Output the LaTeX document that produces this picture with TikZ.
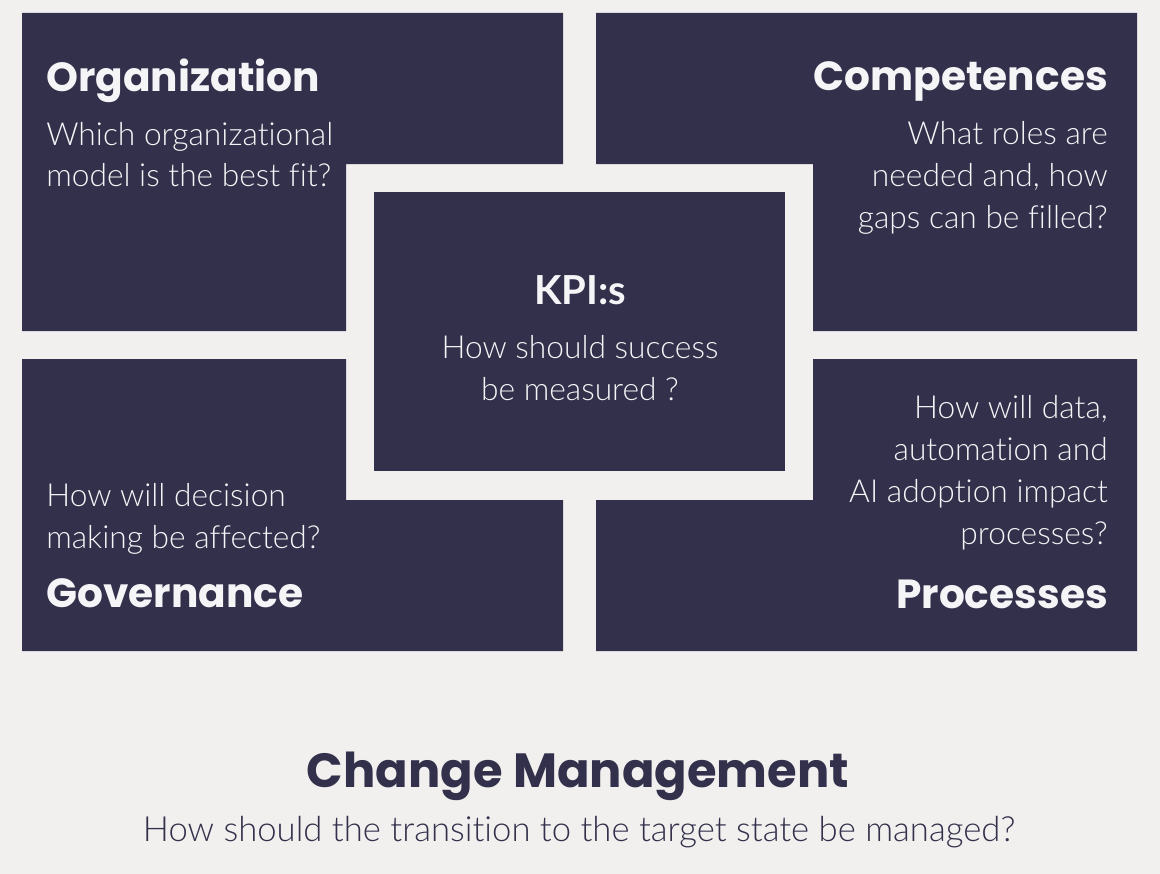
\documentclass[tikz,border=0pt]{standalone}
\usepackage{fontspec}
\setmainfont{Poppins}
\IfFontExistsTF{Lato Light}{\newfontfamily\bodyfont{Lato Light}[Ligatures=NoCommon]}{\newfontfamily\bodyfont{Lato}[Ligatures=NoCommon]}
\newfontfamily\kpifont{Lato}
\definecolor{navy}{HTML}{33304B}
\definecolor{paper}{HTML}{F1F0EE}
\definecolor{snow}{HTML}{F5F5F7}
\newcommand{\qlines}[2]{\begin{tabular}[t]{@{}#1@{}}#2\end{tabular}}

\begin{document}
\begin{tikzpicture}[x=0.75pt,y=-0.75pt,
    title/.style={inner sep=0, text=snow, font=\fontsize{30.5}{36}\selectfont\bfseries},
    question/.style={inner sep=0, text=snow, font=\bodyfont\fontsize{23.8}{31.5}\selectfont},
    block/.style={fill=navy}]

  \fill[paper] (0,0) rectangle (1160,874);

  \begin{scope}[every path/.style={block}]
    \fill (22,13) -- (563,13) -- (563,164) -- (346,164) -- (346,331) -- (22,331) -- cycle;
    \fill (1137,13) -- (596,13) -- (596,164) -- (813,164) -- (813,331) -- (1137,331) -- cycle;
    \fill (22,651) -- (563,651) -- (563,500) -- (346,500) -- (346,359) -- (22,359) -- cycle;
    \fill (1137,651) -- (596,651) -- (596,500) -- (813,500) -- (813,359) -- (1137,359) -- cycle;
    \fill (374,192) rectangle (785,471);
  \end{scope}

  \begin{scope}[every node/.style={title}]
    \node[anchor=base west] (org)  at (46,92)   {Organization};
    \node[anchor=base east] (comp) at (1108,91) {Competences};
    \node[anchor=base west] (gov)  at (46,607)  {Governance};
    \node[anchor=base east] (proc) at (1108,608) {Processes};
    \node[anchor=base, font=\kpifont\fontsize{30}{36}\selectfont\bfseries] (kpi) at (580,304) {KPI:s};
  \end{scope}

  \begin{scope}[every node/.style={question}]
    \node[anchor=base west] (orgq)  at (46,145)   {\qlines{l}{Which organizational\\model is the best fit?}};
    \node[anchor=base east] (compq) at (1108,144) {\qlines{r}{What roles are\\needed and, how\\gaps can be filled?}};
    \node[anchor=base]      (kpiq)  at (580,358)  {\qlines{c}{How should success\\be measured ?}};
    \node[anchor=base west] (govq)  at (46,506)   {\qlines{l}{How will decision\\making be affected?}};
    \node[anchor=base east] (procq) at (1108,418) {\qlines{r}{How will data,\\automation and\\AI adoption impact\\processes?}};
  \end{scope}

  \node[anchor=base, inner sep=0, text=navy, font=\fontsize{36}{42}\selectfont\bfseries] (cm) at (578,787) {Change Management};
  \node[anchor=base, question, text=navy, font=\bodyfont\fontsize{26}{31.5}\selectfont] (cmq) at (579,841) {How should the transition to the target state be managed?};

\end{tikzpicture}
\end{document}
